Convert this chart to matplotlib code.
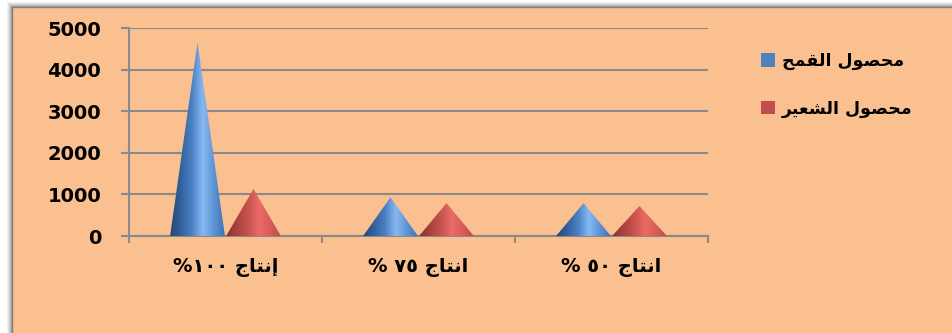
import numpy as np
import matplotlib
matplotlib.use("Agg")
import matplotlib.pyplot as plt
from matplotlib.patches import Polygon, Rectangle, Patch
from matplotlib.colors import LinearSegmentedColormap
import matplotlib.transforms as mtransforms

# ---- data ----
categories = ["إنتاج ١٠٠%", "انتاج ٧٥ %", "انتاج ٥٠ %"]
series_names = ["محصول القمح", "محصول الشعير"]
wheat = [4650, 930, 790]
barley = [1130, 790, 720]
y_ticks = [0, 1000, 2000, 3000, 4000, 5000]

# ---- minimal Arabic shaping (presentation forms) + visual ordering ----
FORMS = {
    'ا': (0xFE8D, 0xFE8E, None, None),
    'إ': (0xFE87, 0xFE88, None, None),
    'ت': (0xFE95, 0xFE96, 0xFE97, 0xFE98),
    'ج': (0xFE9D, 0xFE9E, 0xFE9F, 0xFEA0),
    'ح': (0xFEA1, 0xFEA2, 0xFEA3, 0xFEA4),
    'ر': (0xFEAD, 0xFEAE, None, None),
    'ش': (0xFEB5, 0xFEB6, 0xFEB7, 0xFEB8),
    'ص': (0xFEB9, 0xFEBA, 0xFEBB, 0xFEBC),
    'ع': (0xFEC9, 0xFECA, 0xFECB, 0xFECC),
    'ق': (0xFED5, 0xFED6, 0xFED7, 0xFED8),
    'ل': (0xFEDD, 0xFEDE, 0xFEDF, 0xFEE0),
    'م': (0xFEE1, 0xFEE2, 0xFEE3, 0xFEE4),
    'ن': (0xFEE5, 0xFEE6, 0xFEE7, 0xFEE8),
    'و': (0xFEED, 0xFEEE, None, None),
    'ي': (0xFEF1, 0xFEF2, 0xFEF3, 0xFEF4),
}


def shape_word(word):
    out = []
    for i, ch in enumerate(word):
        if ch not in FORMS:
            out.append(ch)
            continue
        iso, fin, ini, med = FORMS[ch]
        prev = word[i - 1] if i > 0 else None
        nxt = word[i + 1] if i + 1 < len(word) else None
        jp = prev in FORMS and FORMS[prev][2] is not None
        jn = nxt in FORMS and ini is not None
        if jp and jn:
            code = med
        elif jp:
            code = fin
        elif jn:
            code = ini
        else:
            code = iso
        out.append(chr(code))
    return "".join(out)


def visual(text):
    tokens = text.split(" ")
    shown = []
    for tok in reversed(tokens):
        tok = shape_word(tok)
        runs = []
        for ch in tok:
            if ch.isdigit() and runs and runs[-1][-1].isdigit():
                runs[-1] += ch
            else:
                runs.append(ch)
        shown.append("".join(reversed(runs)))
    return " ".join(shown)


plt.rcParams['font.family'] = ['DejaVu Sans']

W, H = 953, 333
fig = plt.figure(figsize=(W / 100, H / 100), dpi=100)
fig.patch.set_facecolor("white")

# chart panel with soft shadow
px0, py_top = 12 / W, (H - 7) / H
for k, a in enumerate([0.05, 0.06, 0.08, 0.1, 0.12]):
    d = (5 - k) / W
    dy = (5 - k) / H
    fig.patches.append(Rectangle((px0 - d, -0.1), 1.2, py_top + dy + 0.1,
                                 transform=fig.transFigure, facecolor="#000000",
                                 alpha=a, edgecolor="none", zorder=0))
fig.patches.append(Rectangle((px0, -0.1), 1.2, py_top + 0.1,
                             transform=fig.transFigure, facecolor="#FAC090",
                             edgecolor="#808080", linewidth=1.0, zorder=1))

ax = fig.add_axes([129 / W, 97 / H, (708 - 129) / W, (305 - 97) / H])
ax.set_facecolor("none")
ax.set_zorder(2)

x = np.arange(len(categories)) + 0.5
off = 0.145
hw = 0.142

blue_cmap = LinearSegmentedColormap.from_list(
    "b", ["#234675", "#33629e", "#4a80c4", "#88b8f2", "#5d94d6", "#3f72b4"])
red_cmap = LinearSegmentedColormap.from_list(
    "r", ["#8a302e", "#a84240", "#c85350", "#ea6a66", "#d85e5a", "#bb4b48"])

grad = np.linspace(0, 1, 256).reshape(1, -1)
for vals, dx, cmap in [(wheat, -off, blue_cmap), (barley, off, red_cmap)]:
    for xc, v in zip(x, vals):
        c = xc + dx
        tri = Polygon([(c - hw, 0), (c, v), (c + hw, 0)], closed=True,
                      facecolor="none", edgecolor="none", transform=ax.transData)
        ax.add_patch(tri)
        im = ax.imshow(grad, cmap=cmap, extent=[c - hw, c + hw, 0, v],
                       aspect="auto", interpolation="bilinear", zorder=3)
        im.set_clip_path(tri)

ax.set_xlim(0, 3)
ax.set_ylim(0, 5000)
ax.set_yticks(y_ticks)
ax.set_yticklabels([str(t) for t in y_ticks], fontsize=14, fontweight="bold")
ax.set_xticks([0, 1, 2, 3])
ax.set_xticklabels([])
ax.yaxis.grid(True, color="#8a8a8a", linewidth=1.5)
ax.set_axisbelow(True)
for s in ["top", "right"]:
    ax.spines[s].set_visible(False)
for s in ["left", "bottom"]:
    ax.spines[s].set_color("#8a8a8a")
    ax.spines[s].set_linewidth(1.5)
ax.tick_params(axis="y", length=6, width=1.5, color="#8a8a8a", pad=14)
ax.tick_params(axis="x", length=5, width=1.5, color="#8a8a8a")

trans = mtransforms.blended_transform_factory(ax.transData, ax.transAxes)
for xc, lab in zip(x, categories):
    ax.text(xc, -0.15, visual(lab), transform=trans, ha="center", va="center",
            fontsize=14, fontweight="bold")

handles = [Patch(facecolor="#4F81BD", edgecolor="none"),
           Patch(facecolor="#C0504D", edgecolor="none")]
fig.legend(handles, [visual(s) for s in series_names], loc="upper left",
           bbox_to_anchor=(761 / W, (H - 52) / H), frameon=False,
           prop={"weight": "bold", "size": 12.5},
           borderpad=0, borderaxespad=0,
           handlelength=0.8, handleheight=0.8, handletextpad=0.4,
           labelspacing=1.7)

fig.savefig("out.png", dpi=100)
